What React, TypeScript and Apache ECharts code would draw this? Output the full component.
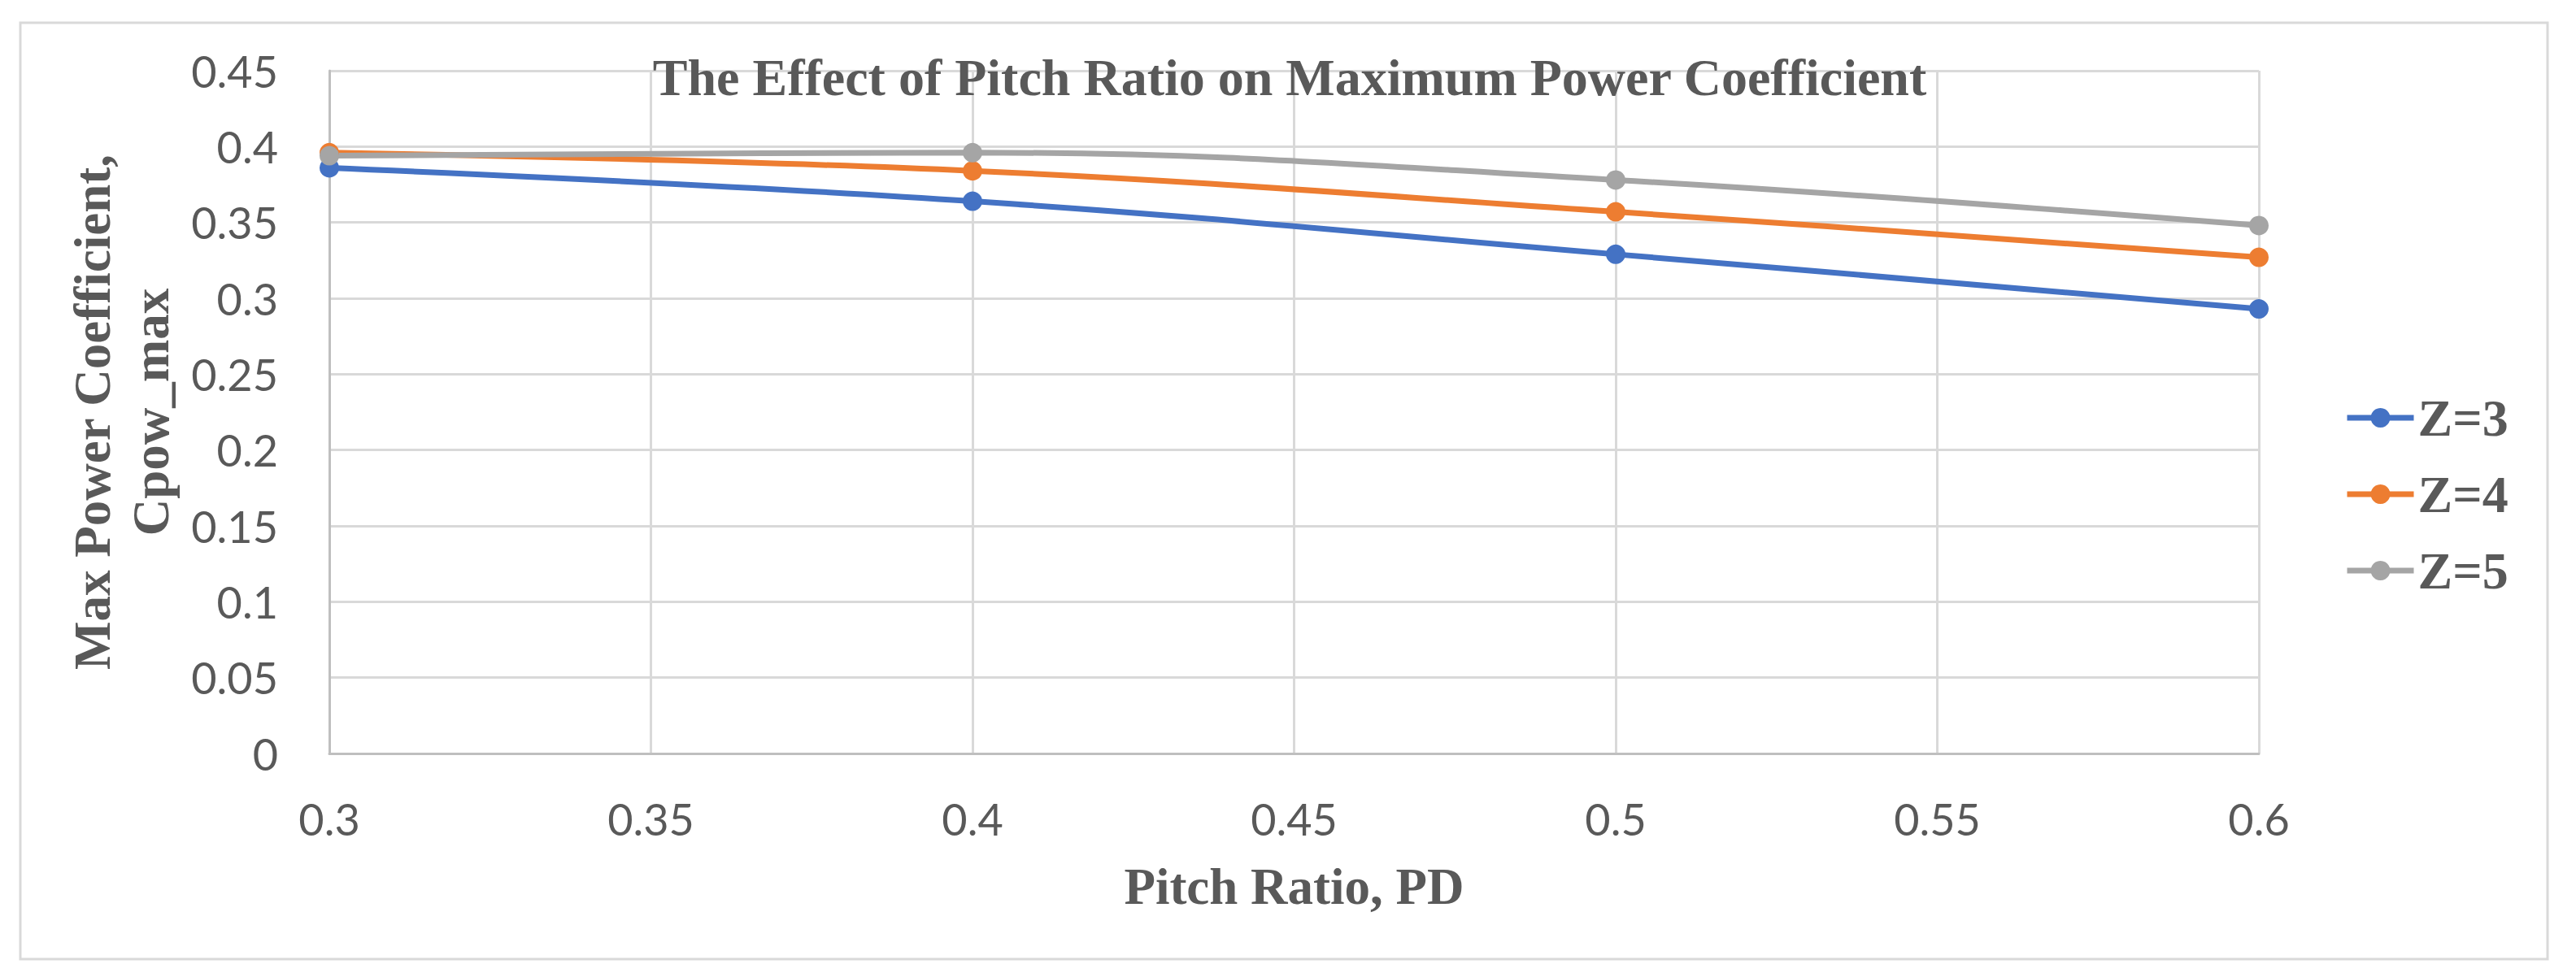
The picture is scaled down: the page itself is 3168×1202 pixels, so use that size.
import React, { useEffect, useRef } from "react";
import * as echarts from "echarts";

const pitchRatio = [0.3, 0.4, 0.5, 0.6];
const seriesNames = ["Z=3", "Z=4", "Z=5"];
const z3 = [0.386, 0.364, 0.329, 0.293];
const z4 = [0.396, 0.384, 0.357, 0.327];
const z5 = [0.394, 0.396, 0.378, 0.348];
const colors = ["#4472C4", "#ED7D31", "#A5A5A5"];

const W = 3168;
const H = 1202;

export default function App() {
  const ref = useRef<HTMLDivElement>(null);
  useEffect(() => {
    document.body.style.margin = "0";
    const chart = echarts.init(ref.current!, null, { renderer: "svg" });
    const values = [z3, z4, z5];
    const serif = "'Liberation Serif', 'Times New Roman', serif";
    const sans = "Lato, sans-serif";
    const textColor = "#595959";
    chart.setOption({
      animation: false,
      backgroundColor: "#ffffff",
      title: {
        text: "The Effect of Pitch Ratio on Maximum Power Coefficient",
        left: 1581,
        top: 58,
        textAlign: "center",
        textStyle: { fontFamily: serif, fontWeight: "bold", fontSize: 64, color: textColor },
      },
      graphic: [
        {
          type: "rect",
          shape: { x: 25, y: 28, width: 3108, height: 1152 },
          style: { fill: "none", stroke: "#d9d9d9", lineWidth: 3 },
          silent: true,
          z: -10,
        },
      ],
      legend: {
        orient: "vertical",
        left: 2878,
        top: 477,
        itemWidth: 82,
        itemHeight: 30,
        itemGap: 30,
        lineStyle: { width: 7 },
        textStyle: { fontFamily: serif, fontWeight: "bold", fontSize: 64, color: textColor, lineHeight: 64 },
        data: seriesNames,
      },
      grid: { left: 405, right: W - 2778, top: 87, bottom: H - 927, containLabel: false },
      xAxis: {
        type: "value",
        min: 0.3,
        max: 0.6,
        interval: 0.05,
        name: "Pitch Ratio, PD",
        nameLocation: "middle",
        nameGap: 132,
        nameTextStyle: { fontFamily: serif, fontWeight: "bold", fontSize: 63, color: textColor },
        axisLine: { show: true, lineStyle: { color: "#bfbfbf", width: 3 } },
        axisTick: { show: false },
        axisLabel: { fontFamily: sans, fontSize: 54, color: textColor, margin: 53 },
        splitLine: { show: true, lineStyle: { color: "#d9d9d9", width: 3 } },
      },
      yAxis: {
        type: "value",
        min: 0,
        max: 0.45,
        interval: 0.05,
        name: "Max Power Coefficient,\nCpow_max",
        nameLocation: "middle",
        nameGap: 183,
        nameTextStyle: { fontFamily: serif, fontWeight: "bold", fontSize: 63, color: textColor, lineHeight: 72 },
        axisLine: { show: true, lineStyle: { color: "#bfbfbf", width: 3 } },
        axisTick: { show: false },
        axisLabel: { fontFamily: sans, fontSize: 54, color: textColor, margin: 63 },
        splitLine: { show: true, lineStyle: { color: "#d9d9d9", width: 3 } },
      },
      series: seriesNames.map((name, i) => ({
        name,
        type: "line",
        smooth: 0.4,
        symbol: "circle",
        symbolSize: 24,
        color: colors[i],
        lineStyle: { width: 7, color: colors[i] },
        itemStyle: { color: colors[i] },
        data: pitchRatio.map((x, j) => [x, values[i][j]]),
      })),
    });
    return () => chart.dispose();
  }, []);
  return <div ref={ref} style={{ width: W, height: H }} />;
}
